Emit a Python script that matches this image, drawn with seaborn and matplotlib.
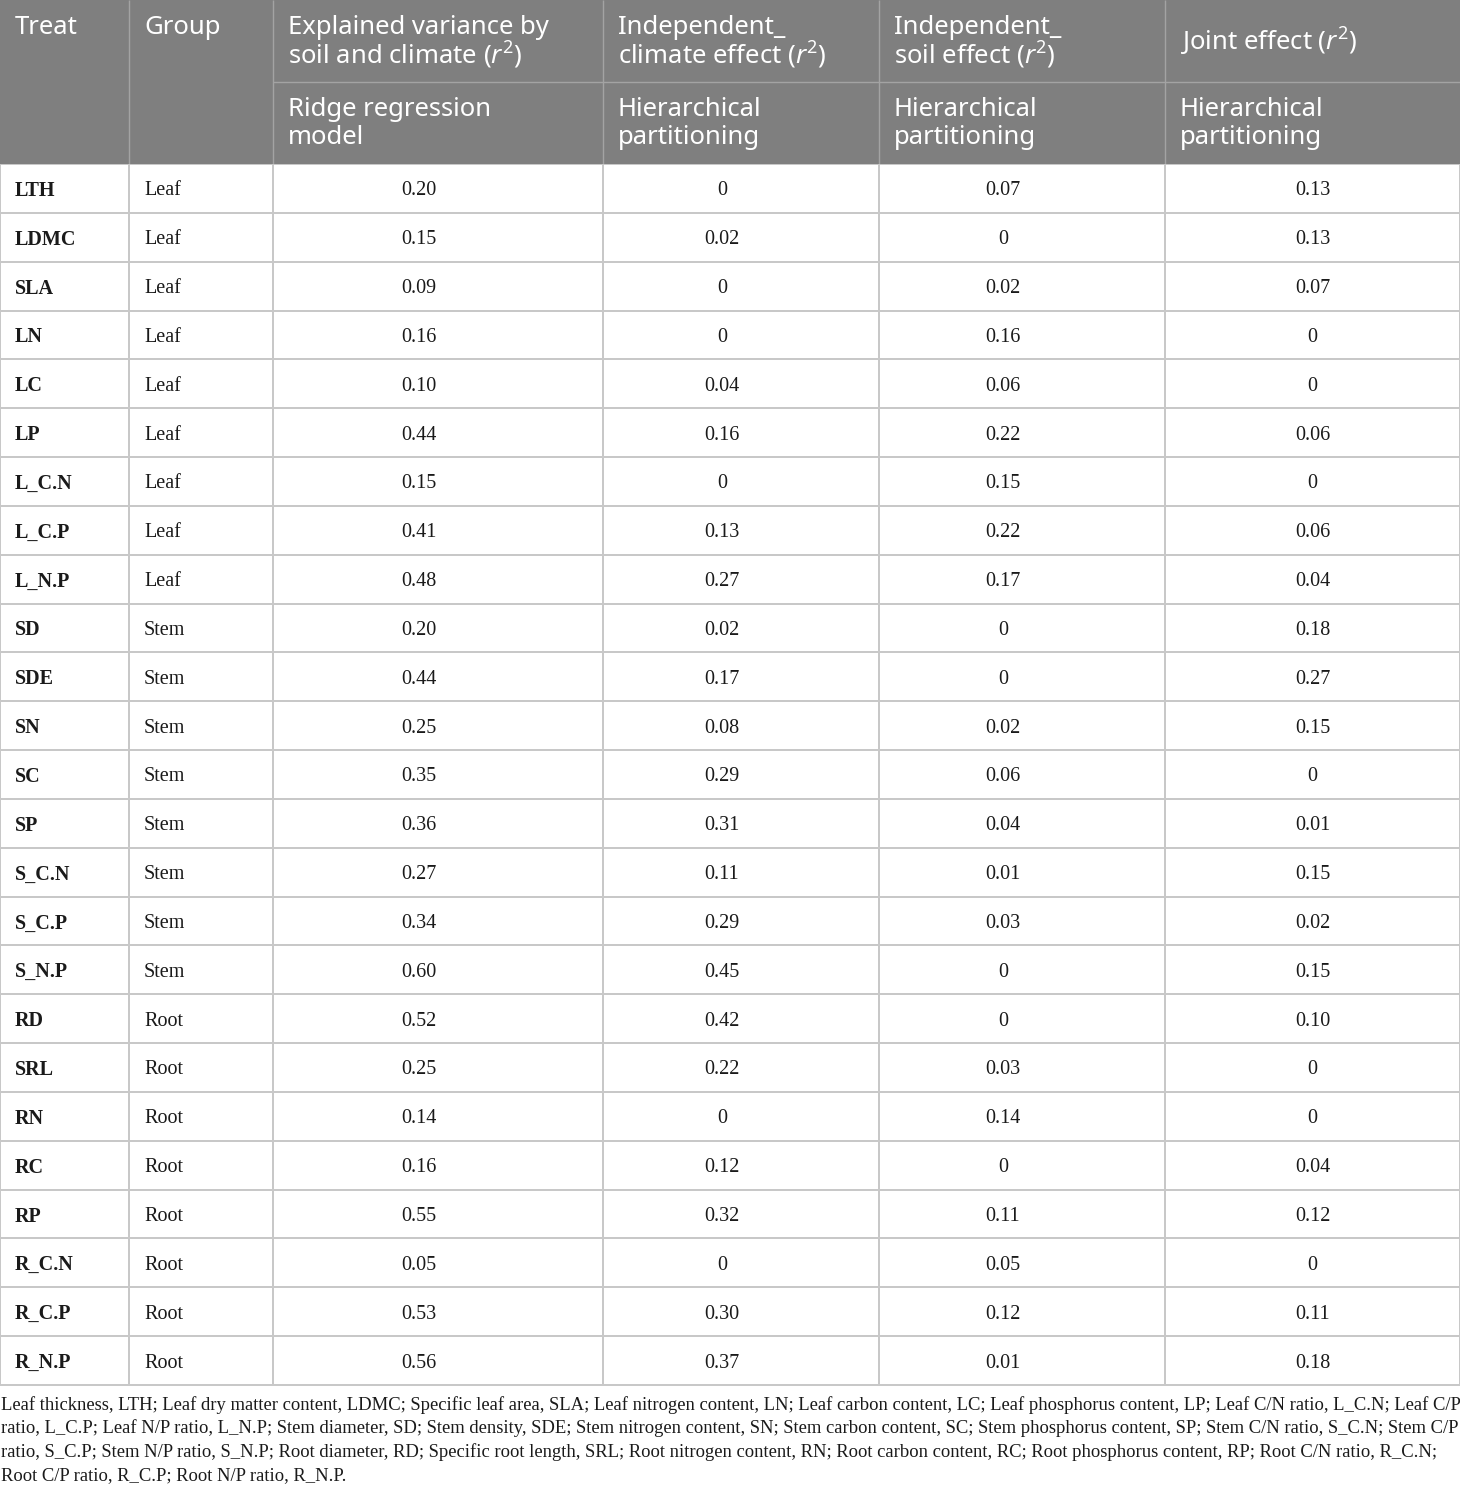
import numpy as np
import pandas as pd
import matplotlib
matplotlib.use("Agg")
import matplotlib.pyplot as plt
from matplotlib.colors import ListedColormap
import seaborn as sns

# datos de la tabla
treat = ["LTH", "LDMC", "SLA", "LN", "LC", "LP", "L_C.N", "L_C.P", "L_N.P",
         "SD", "SDE", "SN", "SC", "SP", "S_C.N", "S_C.P", "S_N.P",
         "RD", "SRL", "RN", "RC", "RP", "R_C.N", "R_C.P", "R_N.P"]
group = ["Leaf"] * 9 + ["Stem"] * 8 + ["Root"] * 8
explained = [0.20, 0.15, 0.09, 0.16, 0.10, 0.44, 0.15, 0.41, 0.48,
             0.20, 0.44, 0.25, 0.35, 0.36, 0.27, 0.34, 0.60,
             0.52, 0.25, 0.14, 0.16, 0.55, 0.05, 0.53, 0.56]
climate = [0, 0.02, 0, 0, 0.04, 0.16, 0, 0.13, 0.27,
           0.02, 0.17, 0.08, 0.29, 0.31, 0.11, 0.29, 0.45,
           0.42, 0.22, 0, 0.12, 0.32, 0, 0.30, 0.37]
soil = [0.07, 0, 0.02, 0.16, 0.06, 0.22, 0.15, 0.22, 0.17,
        0, 0, 0.02, 0.06, 0.04, 0.01, 0.03, 0,
        0, 0.03, 0.14, 0, 0.11, 0.05, 0.12, 0.01]
joint = [0.13, 0.13, 0.07, 0, 0, 0.06, 0, 0.06, 0.04,
         0.18, 0.27, 0.15, 0, 0.01, 0.15, 0.02, 0.15,
         0.10, 0, 0, 0.04, 0.12, 0, 0.11, 0.18]

header_top = ["Treat", "Group",
              "Explained variance by\nsoil and climate ($\\mathit{r}^{2}$)",
              "Independent_\nclimate effect ($\\mathit{r}^{2}$)",
              "Independent_\nsoil effect ($\\mathit{r}^{2}$)",
              "Joint effect ($\\mathit{r}^{2}$)"]
header_sub = ["Ridge regression\nmodel", "Hierarchical\npartitioning",
              "Hierarchical\npartitioning", "Hierarchical\npartitioning"]

footnote = [
    "Leaf thickness, LTH; Leaf dry matter content, LDMC; Specific leaf area, SLA; Leaf nitrogen content, LN; Leaf carbon content, LC; Leaf phosphorus content, LP; Leaf C/N ratio, L_C.N; Leaf C/P",
    "ratio, L_C.P; Leaf N/P ratio, L_N.P; Stem diameter, SD; Stem density, SDE; Stem nitrogen content, SN; Stem carbon content, SC; Stem phosphorus content, SP; Stem C/N ratio, S_C.N; Stem C/P",
    "ratio, S_C.P; Stem N/P ratio, S_N.P; Root diameter, RD; Specific root length, SRL; Root nitrogen content, RN; Root carbon content, RC; Root phosphorus content, RP; Root C/N ratio, R_C.N;",
    "Root C/P ratio, R_C.P; Root N/P ratio, R_N.P.",
]

sns.set_theme(style="white")
plt.rcParams["mathtext.fontset"] = "custom"
plt.rcParams["mathtext.rm"] = "Noto Sans"
plt.rcParams["mathtext.it"] = "Noto Sans:italic"

W, H = 1460, 1488
edges = [0, 129, 273, 603, 879, 1165, 1460]
shift = [0, 0, 19, 19, 19, 0]   # los valores no van justo al centro de la celda
head_h = 164
body_bot = 1385
HEAD_BG = "#7f7f7f"
HEAD_LINE = "#a3a3a3"
BODY_LINE = "#c8c8c8"
SERIF = "Liberation Serif"
SANS = "Noto Sans"
BODY_FS = 14.5
DY = 0.05   # pequeño ajuste vertical del texto en las filas

fig = plt.figure(figsize=(W / 100, H / 100), dpi=100)
fig.patch.set_facecolor("white")

def fmt(v):
    return "0" if v == 0 else f"{v:.2f}"

white = ListedColormap(["white"])
n = len(treat)
cols = [treat, group, explained, climate, soil, joint]
for j, col in enumerate(cols):
    x0, x1 = edges[j], edges[j + 1]
    ax = fig.add_axes([x0 / W, 1 - body_bot / H, (x1 - x0) / W, (body_bot - head_h) / H])
    df = pd.DataFrame({"v": np.zeros(n)})
    if j >= 2:
        labels = np.array([fmt(v) for v in col]).reshape(-1, 1)
        sns.heatmap(df, ax=ax, cmap=white, cbar=False, annot=labels, fmt="",
                    linewidths=1.2, linecolor=BODY_LINE, xticklabels=False, yticklabels=False,
                    annot_kws={"fontfamily": SERIF, "fontsize": BODY_FS, "color": "#1a1a1a"})
        for t in ax.texts:
            tx, ty = t.get_position()
            t.set_position((tx - shift[j] / (x1 - x0), ty + DY))
    else:
        sns.heatmap(df, ax=ax, cmap=white, cbar=False, annot=False,
                    linewidths=1.2, linecolor=BODY_LINE, xticklabels=False, yticklabels=False)
        pad = 15 / (x1 - x0)
        for i, s in enumerate(col):
            ax.text(pad, i + 0.5 + DY, s, ha="left", va="center", fontfamily=SERIF,
                    fontsize=BODY_FS, color="#1a1a1a", fontweight="bold" if j == 0 else "normal")
    ax.collections[0].set_clip_on(False)

# cabecera
axh = fig.add_axes([0, 1 - head_h / H, 1, head_h / H])
axh.set_xlim(0, W)
axh.set_ylim(head_h, 0)
axh.set_facecolor(HEAD_BG)
axh.set_xticks([])
axh.set_yticks([])
for s in axh.spines.values():
    s.set_visible(False)
axh.vlines(edges[1:-1], 0, head_h, color=HEAD_LINE, lw=1)
axh.hlines(82, edges[2], W, color=HEAD_LINE, lw=1)

for j, txt in enumerate(header_top):
    lines = txt.split("\n")
    if j < 2:
        ys = [28]
    elif len(lines) == 2:
        ys = [28, 55]
    else:
        ys = [42]
    for y, line in zip(ys, lines):
        axh.text(edges[j] + 15, y, line, ha="left", va="center", fontfamily=SANS,
                 fontsize=18.5, color="white")
for j, txt in enumerate(header_sub):
    for y, line in zip([110, 138], txt.split("\n")):
        axh.text(edges[j + 2] + 15, y, line, ha="left", va="center", fontfamily=SANS,
                 fontsize=18.5, color="white")

# nota al pie
for k, line in enumerate(footnote):
    fig.text(1 / W, 1 - (1405 + 23.5 * k) / H, line, ha="left", va="center",
             fontfamily=SERIF, fontsize=13.4, color="#1a1a1a")

fig.savefig("out.png", dpi=100)
